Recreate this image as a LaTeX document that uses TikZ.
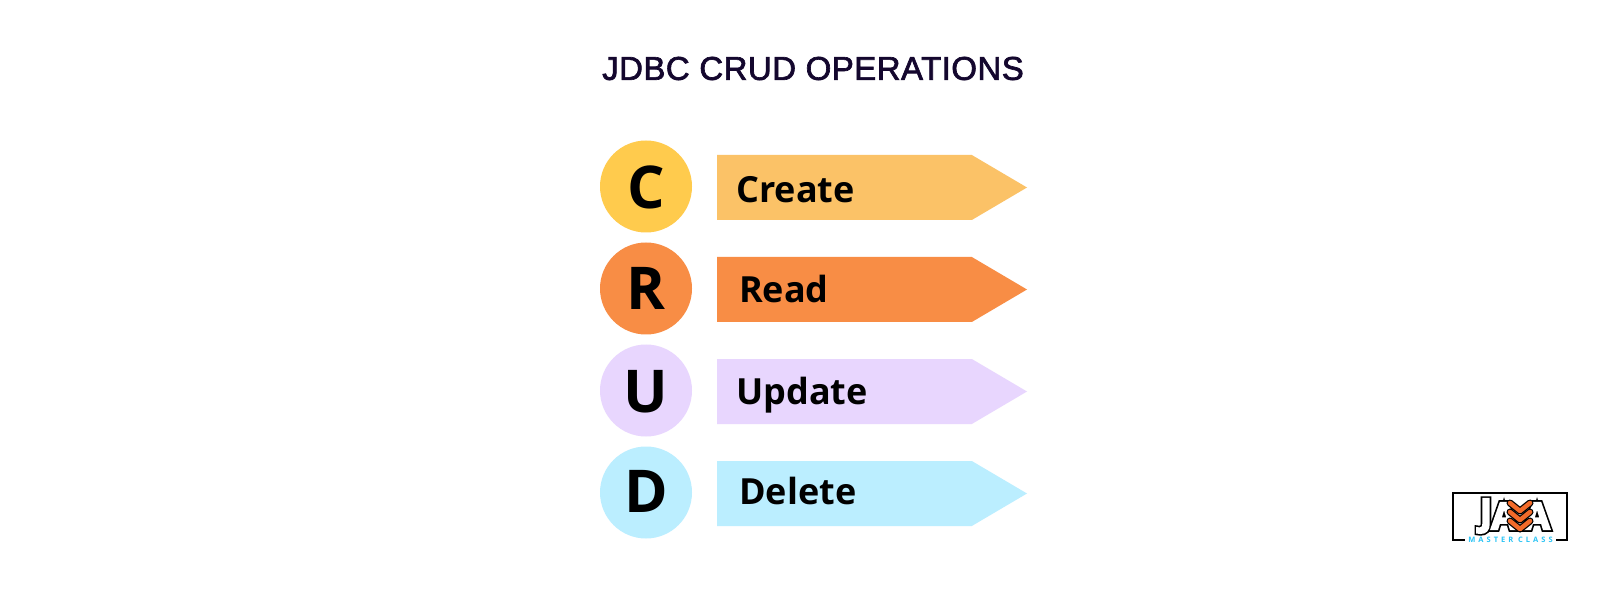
\documentclass[tikz,border=0pt]{standalone}
\usepackage{fontspec}
\setmainfont{Open Sans}
\newfontfamily\titlefont[LetterSpace=1.4,FakeBold=2]{Liberation Sans}
\newfontfamily\logofat[FakeBold=14]{Open Sans Bold}
\newfontfamily\logoface[FakeBold=5]{Open Sans Bold}
\newfontfamily\logosmall[LetterSpace=40]{Open Sans Bold}
\usetikzlibrary{shapes.symbols}
\definecolor{cC}{HTML}{FFCB4D}
\definecolor{cCa}{HTML}{FBC267}
\definecolor{cR}{HTML}{F88D45}
\definecolor{cU}{HTML}{E8D6FE}
\definecolor{cD}{HTML}{BBEEFF}
\definecolor{ink}{HTML}{14072E}
\definecolor{logoor}{HTML}{F26B2A}
\definecolor{logobl}{HTML}{2CC4F5}
\tikzset{px/.style={x=1pt,y=-1pt}}
\tikzset{letter/.style={circle, minimum size=92pt, inner sep=0pt, text depth=0pt, font=\fontsize{59}{59}\selectfont\bfseries}}
\tikzset{tag/.style={signal, signal to=east, signal pointer angle=61, minimum width=310pt, minimum height=65pt, inner sep=0pt, outer sep=0pt}}
\tikzset{word/.style={font=\fontsize{36}{36}\selectfont\bfseries, anchor=base west, inner sep=0pt}}
\tikzset{logobox/.style={draw=black, line width=1.5pt, minimum width=114pt, minimum height=47pt, inner sep=0pt}}
\tikzset{logoback/.style={font=\logofat\fontsize{37}{37}\selectfont, inner sep=0pt}}
\tikzset{logofront/.style={font=\logoface\fontsize{37}{37}\selectfont, text=white, inner sep=0pt}}

\begin{document}
\begin{tikzpicture}[px]
  \useasboundingbox (0,0) rectangle (1600,593);
  \fill[white] (0,0) rectangle (1600,593);

  \node[font=\titlefont\fontsize{33}{33}\selectfont, text=ink, inner sep=0pt] (title) at (813,68.5) {JDBC CRUD OPERATIONS};

  \foreach \name/\lett/\txt/\col/\acol/\y/\dx/\by/\h in {c/C/Create/cC/cCa/186.5/736/202.5/45, r/R/Read/cR/cR/288.5/739/302.5/43, u/U/Update/cU/cU/390.5/736/404/43, d/D/Delete/cD/cD/492.5/739/504.5/40} {
    \node[letter, fill=\col, text height=\h pt] (circ\name) at (646,\y) {\lett};
    \node[tag, fill=\acol, anchor=west] (tag\name) at (717,\y+1) {};
    \node[word] (word\name) at (\dx,\by) {\txt};
  }

  % logo
  \node[logobox] (logo) at (1510,516.5) {};
  \foreach \name/\lett/\x in {j/J/1486, a/A/1504, b/A/1537} {
    \node[logoback] (back\name) at (\x,516) {\lett};
  }
  \foreach \name/\lett/\x in {j/J/1486, a/A/1504, b/A/1537} {
    \node[logofront] (front\name) at (\x,516) {\lett};
  }
  \foreach \y in {521,512,503} {
    \draw[black, line width=7pt, line join=round, line cap=round] (1510,\y) -- (1520,\y+8) -- (1530,\y);
    \draw[logoor, line width=4.5pt, line join=round, line cap=round] (1510,\y) -- (1520,\y+8) -- (1530,\y);
  }
  \node[font=\logosmall\fontsize{7.5}{7.5}\selectfont, text=logobl, fill=white, inner xsep=3pt, inner ysep=1pt] (logosub) at (1510.5,540) {MASTER CLASS};
\end{tikzpicture}
\end{document}
